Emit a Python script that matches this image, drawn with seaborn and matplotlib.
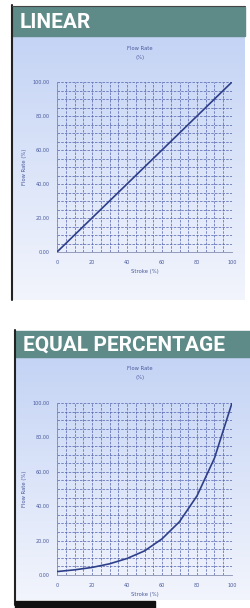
import matplotlib
matplotlib.use("Agg")
import matplotlib.pyplot as plt
import numpy as np
import pandas as pd
import seaborn as sns
from matplotlib.patches import Rectangle

# chart values
stroke = [0, 10, 20, 30, 40, 50, 60, 70, 80, 90, 100]
flow_linear = [0, 10, 20, 30, 40, 50, 60, 70, 80, 90, 100]
flow_equal = [2, 3, 4.4, 6.5, 9.6, 14, 21, 31, 46, 68, 100]
x_ticks = [0, 20, 40, 60, 80, 100]
y_ticks = [0, 20, 40, 60, 80, 100]
headers = ["LINEAR", "EQUAL PERCENTAGE"]

sns.set_style("white")
plt.rcParams["font.family"] = ["DejaVu Sans"]

W, H = 250, 608
fig = plt.figure(figsize=(W / 100, H / 100), dpi=100)
fig.patch.set_facecolor("white")

# background decorations in pixel coordinates
bg = fig.add_axes([0, 0, 1, 1])
bg.set_xlim(0, W)
bg.set_ylim(H, 0)
bg.axis("off")

grad = np.linspace(0, 1, 256).reshape(-1, 1)
top_col = np.array([0.77, 0.83, 0.96])
bot_col = np.array([0.95, 0.96, 0.99])
img = top_col + (bot_col - top_col) * grad
img = img.reshape(256, 1, 3)

# top panel
bg.imshow(img, extent=(12, 245, 300, 36), aspect="auto", zorder=0)
bg.add_patch(Rectangle((12, 7), 233, 29, color="#5e8a88", zorder=1))
bg.plot([12, 12], [5, 300], color="#222222", lw=1.5, zorder=2)
bg.plot([12, 245], [6, 6], color="#444444", lw=0.8, zorder=2)
# bottom panel
bg.imshow(img, extent=(15, 250, 600, 357), aspect="auto", zorder=0)
bg.add_patch(Rectangle((15, 331), 235, 26, color="#5e8a88", zorder=1))
bg.plot([15, 15], [330, 605], color="#222222", lw=1.5, zorder=2)
bg.add_patch(Rectangle((15, 601), 140, 7, color="#111111", zorder=2))

bg.text(20, 22, headers[0], color="white", fontsize=15, fontweight="bold",
        family="Roboto", va="center", ha="left", zorder=3)
bg.text(23, 345, headers[1], color="white", fontsize=15, fontweight="bold",
        family="Roboto", va="center", ha="left", zorder=3)

ink = "#4a5a9c"
panels = [
    (flow_linear, [57 / W, (H - 252) / H, 175 / W, 170 / H], 52),
    (flow_equal, [57 / W, (H - 575) / H, 175 / W, 172 / H], 373),
]

for flow, rect, title_y in panels:
    ax = fig.add_axes(rect)
    ax.patch.set_alpha(0)
    df = pd.DataFrame({"Stroke": stroke, "Flow": flow})
    sns.lineplot(data=df, x="Stroke", y="Flow", ax=ax, color="#2e3f8a",
                 lw=1.2, zorder=3)
    ax.set_xlim(0, 100)
    ax.set_ylim(0, 100)
    ax.set_xticks(x_ticks)
    ax.set_yticks(y_ticks)
    ax.set_xticklabels([str(t) for t in x_ticks])
    ax.set_yticklabels([f"{t:.2f}" for t in y_ticks])
    ax.set_xticks(np.arange(0, 101, 5), minor=True)
    ax.set_yticks(np.arange(0, 101, 5), minor=True)
    ax.grid(which="both", color="#5363ae", lw=0.6, ls=(0, (3, 1.5)), alpha=0.85)
    ax.tick_params(labelsize=3.5, colors=ink, length=1.5, width=0.5, pad=4)
    ax.tick_params(which="minor", length=0)
    for s in ["top", "right"]:
        ax.spines[s].set_visible(False)
    for s in ["left", "bottom"]:
        ax.spines[s].set_color("#8890b0")
        ax.spines[s].set_linewidth(0.6)
    ax.set_xlabel("Stroke (%)", fontsize=3.8, color=ink, labelpad=3)
    ax.set_ylabel("Flow Rate (%)", fontsize=3.8, color=ink, labelpad=4)
    bg.text(140, title_y - 4, "Flow Rate", fontsize=3.8, color=ink,
            ha="center", va="center")
    bg.text(140, title_y + 5, "(%)", fontsize=3.8, color=ink,
            ha="center", va="center")

fig.savefig("out.png", dpi=100)
